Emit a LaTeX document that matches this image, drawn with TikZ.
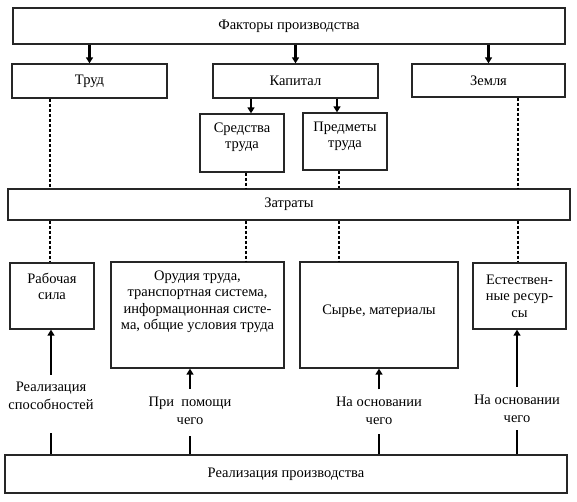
\documentclass[tikz,border=0pt]{standalone}
\usepackage{fontspec}
\setmainfont{Liberation Serif}
\usetikzlibrary{arrows.meta}

\tikzset{
  box/.style={draw=black!85, line width=1.3pt, inner sep=0pt, align=center,
    font=\fontsize{14.5}{16.5}\selectfont},
  txt/.style={inner sep=0pt, align=center, font=\fontsize{14.5}{16.5}\selectfont},
  lab/.style={inner sep=0pt, align=center, font=\fontsize{14.5}{18}\selectfont},
  arr/.style={line width=2.4pt, -{Triangle[length=6pt,width=7pt]}},
  dots/.style={line width=2.4pt, dash pattern=on 3pt off 2pt},
  bar/.style={line width=2pt}
}

\begin{document}
\begin{tikzpicture}[x=1pt,y=-1pt]
  \useasboundingbox (0,0) rectangle (577,501);
  % columns of the connectors
  \path (50,0) coordinate (k1) (246,0) coordinate (k2) (339,0) coordinate (k3)
        (518,0) coordinate (k4) (251,0) coordinate (k5) (337,0) coordinate (k6);

  \node[box, minimum width=552pt, minimum height=36pt] (fact) at (289,26) {Факторы производства};
  \node[box, minimum width=155pt, minimum height=34pt] (trud) at (89.5,81) {Труд};
  \node[box, minimum width=165pt, minimum height=34pt] (kap) at (295.5,81) {Капитал};
  \node[box, minimum width=153pt, minimum height=33pt] (zem) at (488.5,80.5) {Земля};
  \node[box, minimum width=84pt, minimum height=58pt] (sred) at (242,143) {};
  \node[txt] (sredtxt) at (242,137.5) {Средства\\труда};
  \node[box, minimum width=84pt, minimum height=57pt] (pred) at (345,141.5) {};
  \node[txt] (predtxt) at (345,136.5) {Предметы\\труда};
  \node[box, minimum width=562pt, minimum height=31pt] (zatr) at (289,204.5) {Затраты};

  \node[box, minimum width=84pt, minimum height=66pt] (rab) at (52,296) {};
  \node[txt] (rabtxt) at (52,286.5) {Рабочая\\сила};
  \node[box, minimum width=173pt, minimum height=106pt] (orud) at (197.5,315) {};
  \node[txt] (orudtxt) at (197.5,302) {Орудия труда,\\транспортная система,\\информационная систе-\\ма, общие условия труда};
  \node[box, minimum width=158pt, minimum height=106pt] (syr) at (379,315) {};
  \node[txt] (syrtxt) at (379,311) {Сырье, материалы};
  \node[box, minimum width=93pt, minimum height=66pt] (est) at (519.5,296) {Естествен-\\ные ресур-\\сы};

  \node[box, minimum width=562pt, minimum height=38pt] (real) at (286,474) {Реализация производства};

  \node[lab] (l1) at (51,396) {Реализация\\способностей};
  \node[lab] (l2) at (190,411) {При\ \ помощи\\чего};
  \node[lab] (l3) at (379,410.5) {На основании\\чего};
  \node[lab] (l4) at (517,409) {На основании\\чего};

  \draw[arr] (fact.south -| trud) -- (trud.north);
  \draw[arr] (fact.south -| kap) -- (kap.north);
  \draw[arr] (fact.south -| zem) -- (zem.north);
  \draw[arr] (kap.south -| k5) -- (sred.north -| k5);
  \draw[arr] (kap.south -| k6) -- (pred.north -| k6);

  \draw[dots] (trud.south -| k1) -- (zatr.north -| k1);
  \draw[dots] (sred.south -| k2) -- (zatr.north -| k2);
  \draw[dots] (pred.south -| k3) -- (zatr.north -| k3);
  \draw[dots] (zem.south -| k4) -- (zatr.north -| k4);
  \draw[dots] (zatr.south -| k1) -- (rab.north -| k1);
  \draw[dots] (zatr.south -| k2) -- (orud.north -| k2);
  \draw[dots] (zatr.south -| k3) -- (syr.north -| k3);
  \draw[dots] (zatr.south -| k4) -- (est.north -| k4);

  \draw[arr, shorten <=7pt] (l1) -- (rab.south -| l1);
  \draw[arr, shorten <=8pt] (l2) -- (orud.south -| l2);
  \draw[arr, shorten <=7pt] (l3) -- (syr.south -| l3);
  \draw[arr, shorten <=8pt] (l4) -- (est.south -| l4);
  \draw[bar, shorten >=23pt] (real.north -| l1) -- (l1);
  \draw[bar, shorten >=11pt] (real.north -| l2) -- (l2);
  \draw[bar, shorten >=9pt] (real.north -| l3) -- (l3);
  \draw[bar, shorten >=7pt] (real.north -| l4) -- (l4);
\end{tikzpicture}
\end{document}
